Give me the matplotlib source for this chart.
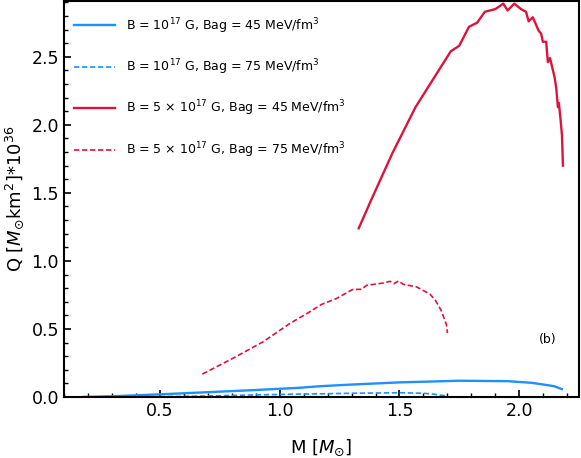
import numpy as np
import matplotlib
matplotlib.use('Agg')
from matplotlib import pyplot as plt
from matplotlib.ticker import MultipleLocator

# B = 1e17 G, Bag = 45
m_b1_45 = [0.18, 0.30, 0.50, 0.70, 0.90, 1.08, 1.17, 1.30, 1.50, 1.75, 1.95, 2.05, 2.09, 2.145, 2.177]
q_b1_45 = [0.001, 0.006, 0.020, 0.036, 0.052, 0.068, 0.080, 0.092, 0.108, 0.120, 0.117, 0.105, 0.095, 0.080, 0.059]

# B = 1e17 G, Bag = 75
m_b1_75 = [0.50, 0.70, 0.90, 1.08, 1.17, 1.30, 1.50, 1.60, 1.64, 1.69]
q_b1_75 = [0.003, 0.008, 0.016, 0.022, 0.024, 0.028, 0.032, 0.028, 0.022, 0.010]

# B = 5e17 G, Bag = 45
m_b5_45 = [1.33, 1.38, 1.47, 1.567, 1.714, 1.749, 1.79, 1.824, 1.856, 1.90, 1.933, 1.951, 1.979,
           2.007, 2.028, 2.039, 2.056, 2.081, 2.091, 2.098, 2.112, 2.119, 2.128, 2.147, 2.154,
           2.161, 2.165, 2.172, 2.178, 2.182]
q_b5_45 = [1.24, 1.44, 1.79, 2.13, 2.54, 2.58, 2.72, 2.75, 2.83, 2.85, 2.89, 2.84, 2.89,
           2.85, 2.83, 2.76, 2.79, 2.69, 2.67, 2.61, 2.61, 2.46, 2.49, 2.35, 2.27,
           2.13, 2.16, 2.04, 1.92, 1.70]

# B = 5e17 G, Bag = 75
m_b5_75 = [0.678, 0.804, 0.930, 1.042, 1.118, 1.174, 1.237, 1.304, 1.342, 1.363, 1.433, 1.461,
           1.477, 1.496, 1.516, 1.572, 1.628, 1.65, 1.673, 1.689, 1.696, 1.70]
q_b5_75 = [0.169, 0.284, 0.405, 0.540, 0.618, 0.680, 0.724, 0.790, 0.792, 0.821, 0.838, 0.850,
           0.833, 0.853, 0.828, 0.809, 0.755, 0.71, 0.64, 0.565, 0.53, 0.47]

blue = '#1E90FF'
red = '#DC143C'

fig = plt.figure(figsize=(5.81, 4.58), dpi=100)
ax = fig.add_axes([0.110, 0.133, 0.887, 0.865])

ax.plot(m_b1_45, q_b1_45, color=blue, lw=1.7, label=r'B = $10^{17}$ G, Bag = 45 MeV/fm$^3$')
ax.plot(m_b1_75, q_b1_75, color=blue, lw=1.2, ls='--', dashes=(3.2, 1.6),
        label=r'B = $10^{17}$ G, Bag = 75 MeV/fm$^3$')
ax.plot(m_b5_45, q_b5_45, color=red, lw=1.7, label=r'B = 5 $\times$ $10^{17}$ G, Bag = 45 MeV/fm$^3$')
ax.plot(m_b5_75, q_b5_75, color=red, lw=1.2, ls='--', dashes=(3.2, 1.6),
        label=r'B = 5 $\times$ $10^{17}$ G, Bag = 75 MeV/fm$^3$')

ax.set_xlim(0.1, 2.25)
ax.set_ylim(0, 2.91)
ax.xaxis.set_major_locator(MultipleLocator(0.5))
ax.xaxis.set_minor_locator(MultipleLocator(0.1))
ax.yaxis.set_major_locator(MultipleLocator(0.5))
ax.yaxis.set_minor_locator(MultipleLocator(0.1))
ax.tick_params(which='both', direction='in', labelsize=12.5)
ax.tick_params(which='major', length=5, width=1.2)
ax.tick_params(which='minor', length=3, width=1)
for s in ax.spines.values():
    s.set_linewidth(1.5)

ax.set_xlabel(r'M [$M_{\odot}$]', fontsize=13, labelpad=13)
ax.set_ylabel(r'Q [$M_{\odot}$km$^2$]*10$^{36}$', fontsize=13)
ax.text(2.08, 0.40, '(b)', fontsize=9)

ax.legend(loc='upper left', bbox_to_anchor=(-0.01, 1.0), frameon=False, fontsize=9,
          labelspacing=1.75, handlelength=3.3, handletextpad=0.9, borderaxespad=0.8)

fig.savefig('out.png', dpi=100)
